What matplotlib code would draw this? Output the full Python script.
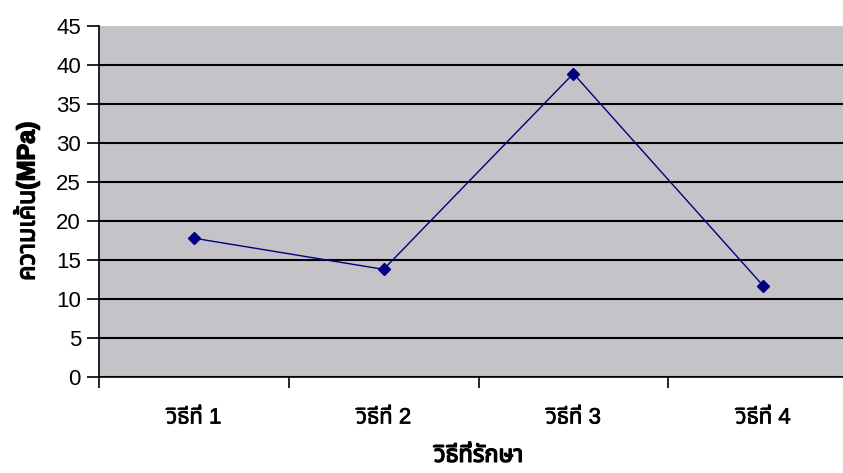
import matplotlib
matplotlib.use("Agg")
import matplotlib.pyplot as plt
import matplotlib.patheffects as pe

# Data
categories = ["วิธีที่ 1", "วิธีที่ 2", "วิธีที่ 3", "วิธีที่ 4"]
strength = [17.8, 13.8, 38.9, 11.7]
y_ticks = list(range(0, 50, 5))

plt.rcParams["font.family"] = ["Liberation Sans", "Noto Sans Thai", "DejaVu Sans"]

fig = plt.figure(figsize=(8.43, 4.73), dpi=100)
ax = fig.add_axes([99 / 843, 96 / 473, 759 / 843, 351 / 473])
ax.set_facecolor("#c5c3c7")

x = range(len(categories))
ax.plot(x, strength, color="#000080", lw=1.0, marker="D", markersize=6.5, zorder=3)

ax.set_xlim(-0.5, len(categories) - 0.5)
ax.set_ylim(0, 45)
ax.set_yticks(y_ticks)
ax.set_xticks([i - 0.5 for i in range(len(categories) + 1)])
ax.set_xticklabels([])
ax.set_xticks(list(x), minor=True)
ax.set_xticklabels(categories, minor=True, fontsize=16)
ax.tick_params(axis="x", which="minor", length=0, pad=22)
ax.tick_params(axis="x", which="major", length=8, width=1.2, direction="out")
ax.tick_params(axis="y", length=9, width=1.2, labelsize=16, pad=4)

# the Thai font has no bold face here, thicken it a bit
bold = [pe.withStroke(linewidth=1.0, foreground="black")]
semi = [pe.withStroke(linewidth=0.5, foreground="black")]
for lbl in ax.get_xticklabels(minor=True):
    lbl.set_path_effects(semi)

ax.yaxis.grid(True, color="black", lw=1.5)
ax.get_ygridlines()[-1].set_visible(False)
ax.set_axisbelow(True)

for s in ["top", "right"]:
    ax.spines[s].set_visible(False)
for s in ["left", "bottom"]:
    ax.spines[s].set_linewidth(1.2)

ax.set_ylabel("ความเค้น(MPa)", fontsize=18, fontweight="bold", labelpad=12,
              path_effects=bold)
ax.set_xlabel("วิธีที่รักษา", fontsize=17, fontweight="bold", labelpad=11,
              path_effects=bold)

fig.savefig("out.png", dpi=100)
